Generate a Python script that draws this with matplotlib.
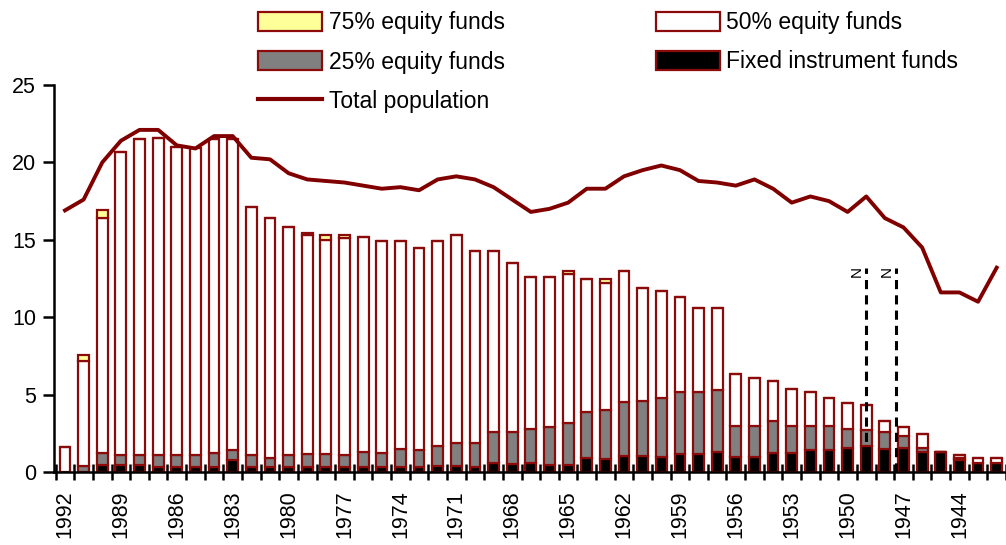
import numpy as np
import matplotlib
matplotlib.use('Agg')
import matplotlib.pyplot as plt
from matplotlib.patches import Patch
from matplotlib.lines import Line2D

plt.rcParams['font.family'] = ['Liberation Sans', 'DejaVu Sans']

# years run backwards, 1992 down to 1942
years = list(range(1992, 1941, -1))

fixed = [0, 0, 0.45, 0.45, 0.45, 0.35, 0.35, 0.35, 0.35, 0.8,
         0.35, 0.3, 0.35, 0.3, 0.3, 0.35, 0.35, 0.35, 0.35, 0.3,
         0.4, 0.4, 0.3, 0.55, 0.5, 0.55, 0.45, 0.45, 0.9, 0.85,
         1.05, 1.05, 1.0, 1.15, 1.15, 1.3, 1.0, 1.0, 1.2, 1.2,
         1.4, 1.4, 1.55, 1.7, 1.5, 1.55, 1.3, 1.3, 0.75, 0.6, 0.6]
eq25 = [0, 0.4, 0.75, 0.65, 0.65, 0.75, 0.75, 0.75, 0.9, 0.6,
        0.75, 0.6, 0.75, 0.85, 0.85, 0.75, 0.95, 0.9, 1.15, 1.15,
        1.3, 1.45, 1.55, 2.05, 2.1, 2.2, 2.45, 2.7, 3.0, 3.15,
        3.45, 3.55, 3.75, 4.0, 4.0, 4.0, 2.0, 2.0, 2.1, 1.8,
        1.6, 1.6, 1.25, 1.0, 1.1, 0.75, 0.25, 0, 0.15, 0, 0]
eq50 = [1.6, 6.75, 15.2, 19.6, 20.4, 20.5, 19.9, 19.8, 20.25, 20.1,
        16.0, 15.5, 14.7, 14.15, 13.85, 14.0, 13.9, 13.65, 13.4, 13.05,
        13.2, 13.45, 12.45, 11.7, 10.9, 9.85, 9.7, 9.65, 8.55, 8.2,
        8.5, 7.3, 6.95, 6.15, 5.45, 5.3, 3.3, 3.1, 2.6, 2.35,
        2.2, 1.8, 1.65, 1.6, 0.7, 0.6, 0.9, 0, 0.2, 0.3, 0.3]
eq75 = [0, 0.4, 0.5, 0, 0, 0, 0, 0, 0, 0,
        0, 0, 0, 0.15, 0.3, 0.2, 0, 0, 0, 0,
        0, 0, 0, 0, 0, 0, 0, 0.2, 0, 0.25,
        0, 0, 0, 0, 0, 0, 0, 0, 0, 0,
        0, 0, 0, 0, 0, 0, 0, 0, 0, 0, 0]
total = [16.9, 17.6, 20.0, 21.4, 22.1, 22.1, 21.1, 20.9, 21.7, 21.7,
         20.3, 20.2, 19.3, 18.9, 18.8, 18.7, 18.5, 18.3, 18.4, 18.2,
         18.9, 19.1, 18.9, 18.4, 17.6, 16.8, 17.0, 17.4, 18.3, 18.3,
         19.1, 19.5, 19.8, 19.5, 18.8, 18.7, 18.5, 18.9, 18.3, 17.4,
         17.8, 17.5, 16.8, 17.8, 16.4, 15.8, 14.5, 11.6, 11.6, 11.0, 13.2]

# dashed markers: (year position, label)
markers = [(1949, 'N'), (1947.4, 'N')]

red = '#8b0a0a'
fig = plt.figure(figsize=(10.06, 5.45), dpi=100)
ax = fig.add_axes([54/1006, 1-472/545, 1-54/1006, (472-85)/545])

x = np.arange(len(years))
fixed = np.array(fixed); eq25 = np.array(eq25)
eq50 = np.array(eq50); eq75 = np.array(eq75)
w = 0.58
kw = dict(width=w, edgecolor=red, linewidth=1.6)
ax.bar(x, fixed, color='black', **kw)
ax.bar(x, eq25, bottom=fixed, color='#808080', **kw)
ax.bar(x, eq50, bottom=fixed+eq25, color='white', **kw)
ax.bar(x, eq75, bottom=fixed+eq25+eq50, color='#ffff99', **kw)
ax.plot(x, total, color='#800000', lw=2.8, zorder=5)

for yr, lab in markers:
    xp = years[0] - yr
    ax.plot([xp, xp], [0, 13.2], color='black', lw=2.2, ls=(0, (3, 2)), zorder=6)
    ax.text(xp - 0.15, 13.3, lab, rotation=90, ha='right', va='top', fontsize=11, zorder=7)

ax.set_xlim(-0.59, 50.43)
ax.set_ylim(0, 25)
ax.set_yticks([0, 5, 10, 15, 20, 25])
major = [i for i, y in enumerate(years) if (1992 - y) % 3 == 0 and y >= 1944]
ax.set_xticks(major)
ax.set_xticklabels([str(years[i]) for i in major], rotation=90)
ax.set_xticks(np.arange(len(years) + 1) - 0.5, minor=True)
ax.tick_params(axis='x', which='major', length=0, pad=13, labelsize=15.5)
ax.tick_params(axis='x', which='minor', direction='inout', length=11, width=1.8)
ax.tick_params(axis='y', direction='out', length=8, width=1.8, labelsize=15.5, pad=5)
for s in ['top', 'right']:
    ax.spines[s].set_visible(False)
for s in ['left', 'bottom']:
    ax.spines[s].set_linewidth(1.8)

handles = [Patch(facecolor='#ffff99', edgecolor=red, lw=1.6),
           Patch(facecolor='#808080', edgecolor=red, lw=1.6),
           Line2D([], [], color='#800000', lw=3),
           Patch(facecolor='white', edgecolor=red, lw=1.6),
           Patch(facecolor='black', edgecolor=red, lw=1.6)]
labels = ['75% equity funds', '25% equity funds', 'Total population',
          '50% equity funds', 'Fixed instrument funds']
fig.legend(handles, labels, ncol=2, loc='upper left', bbox_to_anchor=(258/1006, 1-11/545),
           frameon=False, fontsize=16.5, borderpad=0, borderaxespad=0,
           handlelength=2.8, handleheight=0.9, handletextpad=0.28,
           columnspacing=6.6, labelspacing=0.72)

fig.savefig('out.png', dpi=100)
